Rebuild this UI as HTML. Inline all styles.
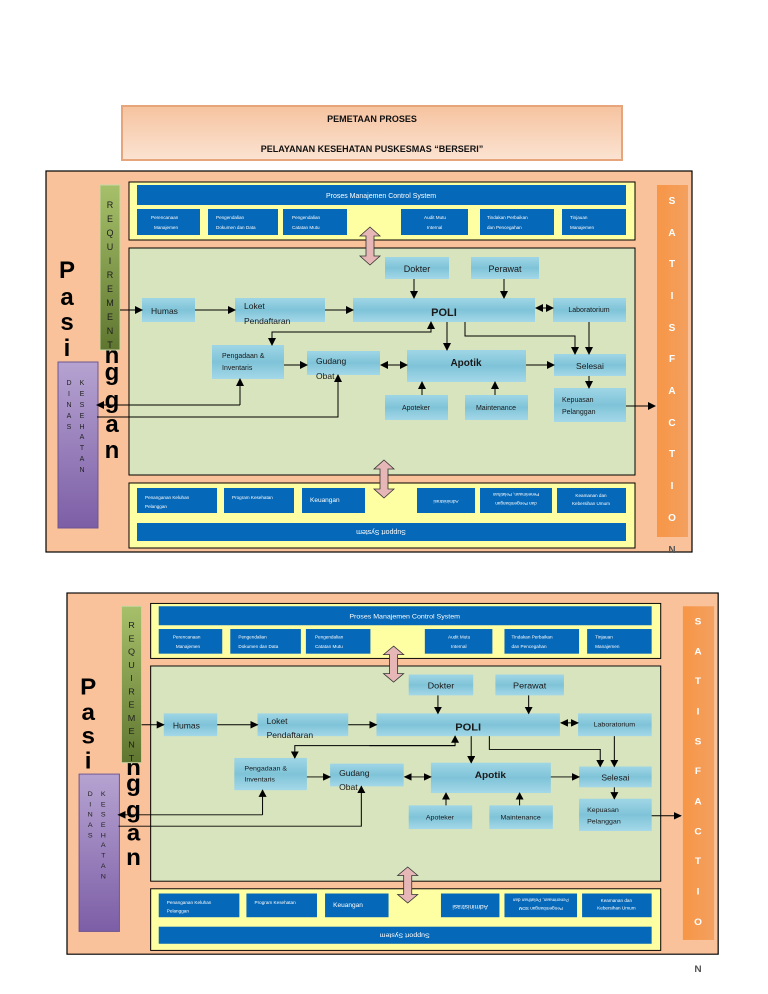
<!DOCTYPE html>
<html><head><meta charset="utf-8"><style>
html,body{margin:0;padding:0;background:#fff;}
body{width:768px;height:994px;position:relative;overflow:hidden;font-family:"Liberation Sans",sans-serif;}
svg{position:absolute;left:0;top:0;}
</style></head><body>
<svg width="768" height="994" viewBox="0 0 768 994" xmlns="http://www.w3.org/2000/svg" font-family="Liberation Sans, sans-serif">
<defs>
<marker id="ah" markerWidth="8" markerHeight="8" refX="7" refY="4" orient="auto" markerUnits="userSpaceOnUse"><path d="M0,0 L8,4 L0,8 z" fill="#000"/></marker>
<marker id="as" markerWidth="8" markerHeight="8" refX="1" refY="4" orient="auto" markerUnits="userSpaceOnUse"><path d="M8,0 L0,4 L8,8 z" fill="#000"/></marker>
<linearGradient id="pb" x1="0" y1="0" x2="0" y2="1"><stop offset="0" stop-color="#9fd6e6"/><stop offset="0.5" stop-color="#7fc3d8"/><stop offset="1" stop-color="#a4d8e8"/></linearGradient>
<linearGradient id="tt" x1="0" y1="0" x2="0" y2="1"><stop offset="0" stop-color="#f6c39f"/><stop offset="1" stop-color="#fbe3d2"/></linearGradient>
<linearGradient id="rq" x1="0" y1="0" x2="0" y2="1"><stop offset="0" stop-color="#a6c06a"/><stop offset="1" stop-color="#5f7630"/></linearGradient>
<linearGradient id="dn" x1="0" y1="0" x2="0" y2="1"><stop offset="0" stop-color="#b6a3d1"/><stop offset="1" stop-color="#7c5ea6"/></linearGradient>
<linearGradient id="og" x1="0" y1="0" x2="1" y2="0"><stop offset="0" stop-color="#f79646"/><stop offset="1" stop-color="#f3a060"/></linearGradient>
</defs>

<rect x="122" y="106" width="500" height="54" fill="url(#tt)" stroke="#e7a57c" stroke-width="2"/>
<text x="372" y="122" font-size="9" font-weight="bold" text-anchor="middle" fill="#111">PEMETAAN PROSES</text>
<text x="372" y="152" font-size="9" font-weight="bold" text-anchor="middle" fill="#111">PELAYANAN KESEHATAN PUSKESMAS “BERSERI”</text>

<g id="d1" transform="translate(46,171)">
<rect x="0" y="0" width="646" height="381" fill="#fac29a" stroke="#000" stroke-width="1.2"/>
<rect x="83" y="11" width="506" height="58" fill="#fefea2" stroke="#000" stroke-width="1"/>
<rect x="91" y="14" width="489" height="20" fill="#0568b8"/>
<text x="335" y="27" font-size="7" fill="#fff" text-anchor="middle">Proses Manajemen Control System</text>
<g fill="#0568b8"><rect x="91" y="38" width="63" height="26"/><rect x="162" y="38" width="70" height="26"/><rect x="237" y="38" width="64" height="26"/><rect x="355" y="38" width="67" height="26"/><rect x="434" y="38" width="74" height="26"/><rect x="516" y="38" width="64" height="26"/></g>
<g font-size="4.6" fill="#fff">
<text x="105" y="48">Perencanaan</text><text x="108" y="58">Manajemen</text>
<text x="170" y="48">Pengendalian</text><text x="170" y="58">Dokumen dan Data</text>
<text x="246" y="48">Pengendalian</text><text x="246" y="58">Catatan Mutu</text>
<text x="378" y="48">Audit Mutu</text><text x="381" y="58">Internal</text>
<text x="441" y="48">Tindakan Perbaikan</text><text x="441" y="58">dan Pencegahan</text>
<text x="524" y="48">Tinjauan</text><text x="524" y="58">Manajemen</text>
</g>
<rect x="83" y="77" width="506" height="227" fill="#d8e4bd" stroke="#000" stroke-width="1"/>
<rect x="83" y="312" width="506" height="65" fill="#fefea2" stroke="#000" stroke-width="1"/>
<g fill="#0568b8"><rect x="91" y="317" width="80" height="25"/><rect x="178" y="317" width="70" height="25"/><rect x="256" y="317" width="63" height="25"/><rect x="371" y="317" width="58" height="25"/><rect x="434" y="317" width="72" height="25"/><rect x="511" y="317" width="69" height="25"/><rect x="91" y="352" width="489" height="18"/></g>
<g font-size="4.6" fill="#fff">
<text x="99" y="328">Penanganan Keluhan</text><text x="99" y="337">Pelanggan</text>
<text x="186" y="328">Program Kesehatan</text>
<text x="264" y="331" font-size="6.5">Keuangan</text>
<text x="400" y="333" text-anchor="middle" transform="rotate(180 400 331)">Administrasi</text>
<text x="470" y="326" text-anchor="middle" transform="rotate(180 470 324)">Penerimaan, Pelatihan</text>
<text x="470" y="335" text-anchor="middle" transform="rotate(180 470 333)">dan Pengembangan</text>
<text x="545" y="326" text-anchor="middle">Keamanan dan</text><text x="545" y="334" text-anchor="middle">Kebersihan Umum</text>
<text x="335" y="363" font-size="7" text-anchor="middle" transform="rotate(180 335 361)">Support System</text>
</g>
<path d="M324,56 L334,65 L328,65 L328,85 L334,85 L324,94 L314,85 L320,85 L320,65 L314,65 z" fill="#e6b7b6" stroke="#333" stroke-width="0.8"/>
<path d="M338,289 L348,298 L342,298 L342,318 L348,318 L338,327 L328,318 L334,318 L334,298 L328,298 z" fill="#e6b7b6" stroke="#333" stroke-width="0.8"/>

<g font-size="24" font-weight="900" fill="#000" text-anchor="middle">
<text x="21" y="107">P</text><text x="21" y="134">a</text><text x="21" y="159">s</text><text x="21" y="185">i</text>
<text x="66" y="192">n</text><text x="66" y="209">g</text><text x="66" y="237">g</text><text x="66" y="261">a</text><text x="66" y="287">n</text>
</g>
<rect x="54" y="14" width="20" height="165" fill="url(#rq)" stroke="#c9d7a5" stroke-width="1"/>
<g font-size="9" fill="#1d1d1d" text-anchor="middle">
<text x="64" y="37">R</text><text x="64" y="51">E</text><text x="64" y="65">Q</text><text x="64" y="79">U</text><text x="64" y="93">I</text><text x="64" y="107">R</text><text x="64" y="121">E</text><text x="64" y="135">M</text><text x="64" y="149">E</text><text x="64" y="163">N</text><text x="64" y="177">T</text>
</g>
<rect x="12" y="191" width="40" height="166" fill="url(#dn)" stroke="#6d5590" stroke-width="1"/>
<g font-size="7" fill="#222" text-anchor="middle">
<text x="23" y="214">D</text><text x="23" y="225">I</text><text x="23" y="236">N</text><text x="23" y="247">A</text><text x="23" y="258">S</text>
<text x="36" y="214">K</text><text x="36" y="225">E</text><text x="36" y="236">S</text><text x="36" y="247">E</text><text x="36" y="258">H</text><text x="36" y="268">A</text><text x="36" y="279">T</text><text x="36" y="290">A</text><text x="36" y="301">N</text>
</g>
<rect x="611" y="14" width="31" height="352" fill="url(#og)"/>
<g font-size="10" font-weight="bold" fill="#fff" text-anchor="middle">
<text x="626" y="33">S</text><text x="626" y="65">A</text><text x="626" y="96">T</text><text x="626" y="128">I</text><text x="626" y="160">S</text><text x="626" y="191">F</text><text x="626" y="223">A</text><text x="626" y="255">C</text><text x="626" y="286">T</text><text x="626" y="318">I</text><text x="626" y="350">O</text>
<text x="626" y="382" fill="#555">N</text>
</g>

<g fill="url(#pb)">
<rect x="339" y="86" width="64" height="22"/><rect x="425" y="86" width="68" height="22"/>
<rect x="96" y="127" width="53" height="24"/><rect x="189" y="127" width="90" height="24"/>
<rect x="307" y="127" width="182" height="24"/><rect x="507" y="127" width="73" height="24"/>
<rect x="166" y="174" width="72" height="34"/><rect x="261" y="180" width="73" height="24"/>
<rect x="361" y="179" width="119" height="32"/><rect x="508" y="183" width="72" height="22"/>
<rect x="508" y="217" width="72" height="34"/><rect x="339" y="224" width="63" height="25"/>
<rect x="419" y="224" width="63" height="25"/>
</g>
<g fill="#1a1a1a" font-size="8.5">
<text x="371" y="101" text-anchor="middle" font-size="9">Dokter</text>
<text x="459" y="101" text-anchor="middle" font-size="9">Perawat</text>
<text x="105" y="143">Humas</text>
<text x="198" y="138">Loket</text><text x="198" y="153">Pendaftaran</text>
<text x="398" y="145" text-anchor="middle" font-size="11" font-weight="bold">POLI</text>
<text x="543" y="141" text-anchor="middle" font-size="7">Laboratorium</text>
<text x="176" y="187" font-size="7">Pengadaan &amp;</text><text x="176" y="199" font-size="7">Inventaris</text>
<text x="270" y="193">Gudang</text><text x="270" y="208">Obat</text>
<text x="420" y="195" text-anchor="middle" font-size="10" font-weight="bold">Apotik</text>
<text x="544" y="198" text-anchor="middle">Selesai</text>
<text x="516" y="231" font-size="7">Kepuasan</text><text x="516" y="243" font-size="7">Pelanggan</text>
<text x="370" y="239" text-anchor="middle" font-size="7">Apoteker</text>
<text x="450" y="239" text-anchor="middle" font-size="7">Maintenance</text>
</g>
<g stroke="#000" stroke-width="1" fill="none">
<path d="M74,139 L96,139" marker-end="url(#ah)"/>
<path d="M149,139 L189,139" marker-end="url(#ah)"/>
<path d="M279,139 L307,139" marker-end="url(#ah)"/>
<path d="M490,137 L507,137" marker-start="url(#as)" marker-end="url(#ah)"/>
<path d="M368,108 L368,127" marker-end="url(#ah)"/>
<path d="M458,108 L458,127" marker-end="url(#ah)"/>
<path d="M385,161 L226,161 L226,174" marker-end="url(#ah)"/>
<path d="M300,161 L385,161 L385,151" marker-end="url(#ah)"/>
<path d="M401,151 L401,179" marker-end="url(#ah)"/>
<path d="M419,151 L419,165 L529,165 L529,183" marker-end="url(#ah)"/>
<path d="M543,151 L543,183" marker-end="url(#ah)"/>
<path d="M238,194 L261,194" marker-end="url(#ah)"/>
<path d="M335,194 L361,194" marker-start="url(#as)" marker-end="url(#ah)"/>
<path d="M480,194 L508,194" marker-end="url(#ah)"/>
<path d="M543,205 L543,217" marker-end="url(#ah)"/>
<path d="M376,224 L376,211" marker-end="url(#ah)"/>
<path d="M449,224 L449,211" marker-end="url(#ah)"/>
<path d="M580,235 L609,235" marker-end="url(#ah)"/>
<path d="M194,234 L194,208" marker-end="url(#ah)"/>
<path d="M194,234 L51,234" marker-end="url(#ah)"/>
<path d="M51,246 L292,246 L292,204" marker-end="url(#ah)"/>
</g>
</g>

<g transform="translate(67,593) scale(1.008,0.948)">
<rect x="0" y="0" width="646" height="381" fill="#fac29a" stroke="#000" stroke-width="1.2"/>
<rect x="83" y="11" width="506" height="58" fill="#fefea2" stroke="#000" stroke-width="1"/>
<rect x="91" y="14" width="489" height="20" fill="#0568b8"/>
<text x="335" y="27" font-size="7" fill="#fff" text-anchor="middle">Proses Manajemen Control System</text>
<g fill="#0568b8"><rect x="91" y="38" width="63" height="26"/><rect x="162" y="38" width="70" height="26"/><rect x="237" y="38" width="64" height="26"/><rect x="355" y="38" width="67" height="26"/><rect x="434" y="38" width="74" height="26"/><rect x="516" y="38" width="64" height="26"/></g>
<g font-size="4.6" fill="#fff">
<text x="105" y="48">Perencanaan</text><text x="108" y="58">Manajemen</text>
<text x="170" y="48">Pengendalian</text><text x="170" y="58">Dokumen dan Data</text>
<text x="246" y="48">Pengendalian</text><text x="246" y="58">Catatan Mutu</text>
<text x="378" y="48">Audit Mutu</text><text x="381" y="58">Internal</text>
<text x="441" y="48">Tindakan Perbaikan</text><text x="441" y="58">dan Pencegahan</text>
<text x="524" y="48">Tinjauan</text><text x="524" y="58">Manajemen</text>
</g>
<rect x="83" y="77" width="506" height="227" fill="#d8e4bd" stroke="#000" stroke-width="1"/>
<rect x="83" y="312" width="506" height="65" fill="#fefea2" stroke="#000" stroke-width="1"/>
<g fill="#0568b8"><rect x="91" y="317" width="80" height="25"/><rect x="178" y="317" width="70" height="25"/><rect x="256" y="317" width="63" height="25"/><rect x="371" y="317" width="58" height="25"/><rect x="434" y="317" width="72" height="25"/><rect x="511" y="317" width="69" height="25"/><rect x="91" y="352" width="489" height="18"/></g>
<g font-size="4.6" fill="#fff">
<text x="99" y="328">Penanganan Keluhan</text><text x="99" y="337">Pelanggan</text>
<text x="186" y="328">Program Kesehatan</text>
<text x="264" y="331" font-size="6.5">Keuangan</text>
<text x="400" y="333" font-size="6.5" text-anchor="middle" transform="rotate(180 400 331)">Administrasi</text>
<text x="470" y="326" text-anchor="middle" transform="rotate(180 470 324)">Penerimaan, Pelatihan dan</text>
<text x="470" y="335" text-anchor="middle" transform="rotate(180 470 333)">Pengembangan SDM</text>
<text x="545" y="326" text-anchor="middle">Keamanan dan</text><text x="545" y="334" text-anchor="middle">Kebersihan Umum</text>
<text x="335" y="363" font-size="7" text-anchor="middle" transform="rotate(180 335 361)">Support System</text>
</g>
<path d="M324,56 L334,65 L328,65 L328,85 L334,85 L324,94 L314,85 L320,85 L320,65 L314,65 z" fill="#e6b7b6" stroke="#333" stroke-width="0.8"/>
<path d="M338,289 L348,298 L342,298 L342,318 L348,318 L338,327 L328,318 L334,318 L334,298 L328,298 z" fill="#e6b7b6" stroke="#333" stroke-width="0.8"/>
<g font-size="24" font-weight="900" fill="#000" text-anchor="middle">
<text x="21" y="107">P</text><text x="21" y="134">a</text><text x="21" y="159">s</text><text x="21" y="185">i</text>
<text x="66" y="192">n</text><text x="66" y="209">g</text><text x="66" y="237">g</text><text x="66" y="261">a</text><text x="66" y="287">n</text>
</g>
<rect x="54" y="14" width="20" height="165" fill="url(#rq)" stroke="#c9d7a5" stroke-width="1"/>
<g font-size="9" fill="#1d1d1d" text-anchor="middle">
<text x="64" y="37">R</text><text x="64" y="51">E</text><text x="64" y="65">Q</text><text x="64" y="79">U</text><text x="64" y="93">I</text><text x="64" y="107">R</text><text x="64" y="121">E</text><text x="64" y="135">M</text><text x="64" y="149">E</text><text x="64" y="163">N</text><text x="64" y="177">T</text>
</g>
<rect x="12" y="191" width="40" height="166" fill="url(#dn)" stroke="#6d5590" stroke-width="1"/>
<g font-size="7" fill="#222" text-anchor="middle">
<text x="23" y="214">D</text><text x="23" y="225">I</text><text x="23" y="236">N</text><text x="23" y="247">A</text><text x="23" y="258">S</text>
<text x="36" y="214">K</text><text x="36" y="225">E</text><text x="36" y="236">S</text><text x="36" y="247">E</text><text x="36" y="258">H</text><text x="36" y="268">A</text><text x="36" y="279">T</text><text x="36" y="290">A</text><text x="36" y="301">N</text>
</g>
<rect x="611" y="14" width="31" height="352" fill="url(#og)"/>
<g font-size="10" font-weight="bold" fill="#fff" text-anchor="middle">
<text x="626" y="33">S</text><text x="626" y="65">A</text><text x="626" y="96">T</text><text x="626" y="128">I</text><text x="626" y="160">S</text><text x="626" y="191">F</text><text x="626" y="223">A</text><text x="626" y="255">C</text><text x="626" y="286">T</text><text x="626" y="318">I</text><text x="626" y="350">O</text>
<text x="626" y="400" fill="#555">N</text>
</g>
<g fill="url(#pb)">
<rect x="339" y="86" width="64" height="22"/><rect x="425" y="86" width="68" height="22"/>
<rect x="96" y="127" width="53" height="24"/><rect x="189" y="127" width="90" height="24"/>
<rect x="307" y="127" width="182" height="24"/><rect x="507" y="127" width="73" height="24"/>
<rect x="166" y="174" width="72" height="34"/><rect x="261" y="180" width="73" height="24"/>
<rect x="361" y="179" width="119" height="32"/><rect x="508" y="183" width="72" height="22"/>
<rect x="508" y="217" width="72" height="34"/><rect x="339" y="224" width="63" height="25"/>
<rect x="419" y="224" width="63" height="25"/>
</g>
<g fill="#1a1a1a" font-size="8.5">
<text x="371" y="101" text-anchor="middle" font-size="9">Dokter</text>
<text x="459" y="101" text-anchor="middle" font-size="9">Perawat</text>
<text x="105" y="143">Humas</text>
<text x="198" y="138">Loket</text><text x="198" y="153">Pendaftaran</text>
<text x="398" y="145" text-anchor="middle" font-size="11" font-weight="bold">POLI</text>
<text x="543" y="141" text-anchor="middle" font-size="7">Laboratorium</text>
<text x="176" y="187" font-size="7">Pengadaan &amp;</text><text x="176" y="199" font-size="7">Inventaris</text>
<text x="270" y="193">Gudang</text><text x="270" y="208">Obat</text>
<text x="420" y="195" text-anchor="middle" font-size="10" font-weight="bold">Apotik</text>
<text x="544" y="198" text-anchor="middle">Selesai</text>
<text x="516" y="231" font-size="7">Kepuasan</text><text x="516" y="243" font-size="7">Pelanggan</text>
<text x="370" y="239" text-anchor="middle" font-size="7">Apoteker</text>
<text x="450" y="239" text-anchor="middle" font-size="7">Maintenance</text>
</g>
<g stroke="#000" stroke-width="1" fill="none">
<path d="M74,139 L96,139" marker-end="url(#ah)"/>
<path d="M149,139 L189,139" marker-end="url(#ah)"/>
<path d="M279,139 L307,139" marker-end="url(#ah)"/>
<path d="M490,137 L507,137" marker-start="url(#as)" marker-end="url(#ah)"/>
<path d="M368,108 L368,127" marker-end="url(#ah)"/>
<path d="M458,108 L458,127" marker-end="url(#ah)"/>
<path d="M385,161 L226,161 L226,174" marker-end="url(#ah)"/>
<path d="M300,161 L385,161 L385,151" marker-end="url(#ah)"/>
<path d="M401,151 L401,179" marker-end="url(#ah)"/>
<path d="M419,151 L419,165 L529,165 L529,183" marker-end="url(#ah)"/>
<path d="M543,151 L543,183" marker-end="url(#ah)"/>
<path d="M238,194 L261,194" marker-end="url(#ah)"/>
<path d="M335,194 L361,194" marker-start="url(#as)" marker-end="url(#ah)"/>
<path d="M480,194 L508,194" marker-end="url(#ah)"/>
<path d="M543,205 L543,217" marker-end="url(#ah)"/>
<path d="M376,224 L376,211" marker-end="url(#ah)"/>
<path d="M449,224 L449,211" marker-end="url(#ah)"/>
<path d="M580,235 L609,235" marker-end="url(#ah)"/>
<path d="M194,234 L194,208" marker-end="url(#ah)"/>
<path d="M194,234 L51,234" marker-end="url(#ah)"/>
<path d="M51,246 L292,246 L292,204" marker-end="url(#ah)"/>
</g>
</g>
</svg>
</body></html>
